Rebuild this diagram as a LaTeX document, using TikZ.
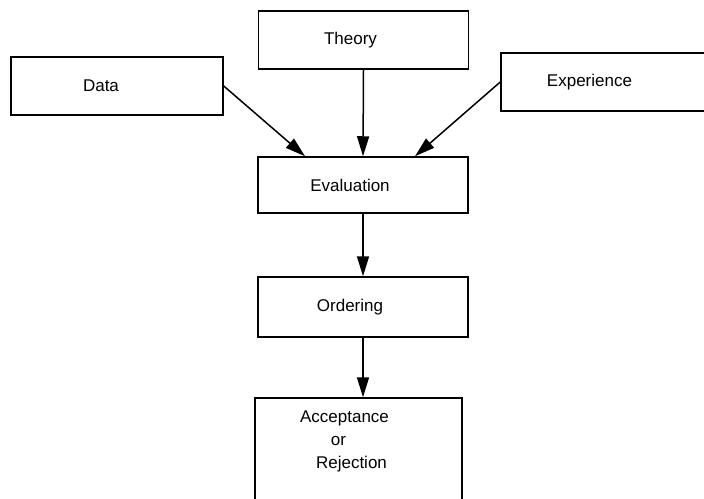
\documentclass[tikz,border=0pt]{standalone}
\usepackage{fontspec}
\setmainfont{Liberation Sans}
\usetikzlibrary{arrows.meta}

\begin{document}
\begin{tikzpicture}[x=1pt, y=-1pt, >={Triangle[length=20pt,width=12pt]}, line width=1.5pt,
	every node/.style={font=\fontsize{17}{23}\selectfont},
	box/.style={draw, rectangle, inner sep=0pt, minimum width=210pt, minimum height=58pt},
	lbox/.style={box, execute at end node={\hspace*{26pt}}}]
	\clip (0,0) rectangle (704,498);

	% Nodes {theory, data, exper, eval, order, accept}
	\node [lbox] 								(theory) at (363.5,40)  {Theory};
	\node [lbox, minimum width=212pt] 			(data)   at (117,86)    {Data\hspace*{6pt}};
	\node [lbox, minimum width=219pt] 			(exper)  at (610.5,82)  {Experience\hspace*{16pt}};
	\node [lbox, minimum height=56pt] 			(eval)   at (363,185)   {Evaluation};
	\node [lbox, minimum height=60pt] 			(order)  at (363,307)   {Ordering};
	\node [box, minimum width=207pt, minimum height=120pt, align=center, text depth=36pt]
												(accept) at (358.5,458)
	{Acceptance\hspace*{28pt} \\ or\hspace*{40pt} \\ Rejection\hspace*{14pt}};

	% Paths
	\path [->]
	% Inputs into the evaluation
	(data.east)     edge ([xshift=-58pt]eval.north)
	(theory.south)  edge (eval.north)
	(exper.west)    edge ([xshift=52pt]eval.north)

	% Down the chain
	(eval.south)    edge (order.north)
	(order.south)   edge (order.south |- accept.north);

\end{tikzpicture}
\end{document}
